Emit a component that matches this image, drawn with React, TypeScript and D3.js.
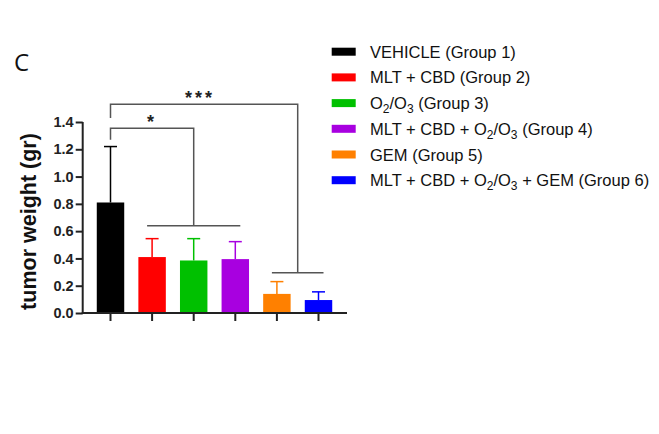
import { useEffect, useRef } from 'react';
import * as d3 from 'd3';

// group labels (legend), values and upper SD
const groups = ['G1', 'G2', 'G3', 'G4', 'G5', 'G6'];
const means = [0.81, 0.41, 0.385, 0.395, 0.14, 0.095];
const upperErr = [1.22, 0.545, 0.545, 0.523, 0.23, 0.155];
const colors = ['#000000', '#ff0000', '#00c000', '#a800e0', '#ff8000', '#0000ff'];
const yTicks = [0, 0.2, 0.4, 0.6, 0.8, 1.0, 1.2, 1.4];

// legend entries: [text, subscript, text, subscript, text...]
const legendParts: string[][] = [
  ['VEHICLE (Group 1)'],
  ['MLT + CBD (Group 2)'],
  ['O', '2', '/O', '3', ' (Group 3)'],
  ['MLT + CBD + O', '2', '/O', '3', ' (Group 4)'],
  ['GEM (Group 5)'],
  ['MLT + CBD + O', '2', '/O', '3', ' + GEM (Group 6)'],
];

// significance brackets: from group, to groups, label, heights (data units)
const brackets = [
  { from: 0, to: [1, 2, 3], label: '*', top: 1.355, leftEnd: 1.27, lower: 0.64, dx: 0 },
  { from: 0, to: [4, 5], label: '***', top: 1.53, leftEnd: 1.43, lower: 0.295, dx: -4 },
];

export default function App() {
  const svgRef = useRef<SVGSVGElement>(null);

  useEffect(() => {
    if (!svgRef.current) return;
    const svg = d3.select(svgRef.current);
    svg.selectAll('*').remove();

    const x = d3.scaleBand<string>()
      .domain(groups)
      .range([89.7, 339.3])
      .paddingInner(0.34)
      .paddingOuter(0.17);
    const y = d3.scaleLinear().domain([0, 1.4]).range([313, 122]);
    const cx = (i: number) => (x(groups[i]) ?? 0) + x.bandwidth() / 2;
    const axisColor = '#222';
    const bracketColor = '#555';
    const font = '"Liberation Sans", Arial, sans-serif';

    // panel letter
    svg.append('text')
      .attr('x', 14)
      .attr('y', 71)
      .attr('font-family', '"Open Sans", sans-serif')
      .attr('font-size', 24)
      .attr('fill', '#111')
      .text('C');

    // bars
    svg.append('g')
      .selectAll('rect')
      .data(groups)
      .join('rect')
      .attr('x', d => x(d) ?? 0)
      .attr('y', (_, i) => y(means[i]))
      .attr('width', x.bandwidth())
      .attr('height', (_, i) => y(0) - y(means[i]))
      .attr('fill', (_, i) => colors[i]);

    // error bars (upper only)
    const err = svg.append('g');
    groups.forEach((_, i) => {
      const c = cx(i);
      err.append('line')
        .attr('x1', c).attr('x2', c)
        .attr('y1', y(means[i])).attr('y2', y(upperErr[i]))
        .attr('stroke', colors[i]).attr('stroke-width', 1.5);
      err.append('line')
        .attr('x1', c - 6.5).attr('x2', c + 6.5)
        .attr('y1', y(upperErr[i])).attr('y2', y(upperErr[i]))
        .attr('stroke', colors[i]).attr('stroke-width', 1.5);
    });

    // y axis
    const yAxis = svg.append('g')
      .attr('transform', 'translate(82.7,0)')
      .call(d3.axisLeft(y).tickValues(yTicks).tickFormat(d3.format('.1f')).tickSize(7).tickPadding(2));
    yAxis.select('.domain').attr('stroke', axisColor).attr('stroke-width', 2)
      .attr('d', `M0,${y(1.4)}V${y(0) + 1}`);
    yAxis.selectAll('.tick line').attr('stroke', axisColor).attr('stroke-width', 2);
    yAxis.selectAll('.tick text')
      .attr('fill', '#222')
      .attr('font-size', 14.5)
      .attr('font-weight', 'bold')
      .attr('font-family', font);

    // x axis
    const xAxis = svg.append('g')
      .attr('transform', `translate(0,${y(0)})`)
      .call(d3.axisBottom(x).tickSize(8).tickFormat(() => ''));
    xAxis.select('.domain').attr('stroke', axisColor).attr('stroke-width', 2)
      .attr('d', `M81.7,0H347`);
    xAxis.selectAll('.tick line').attr('stroke', axisColor).attr('stroke-width', 2);

    // y label
    svg.append('text')
      .attr('transform', `translate(35.5,${(y(0) + y(1.4)) / 2 + 4}) rotate(-90)`)
      .attr('text-anchor', 'middle')
      .attr('font-family', font)
      .attr('font-weight', 'bold')
      .attr('font-size', 21.5)
      .attr('fill', '#111')
      .text('tumor weight (gr)');

    // significance brackets
    const br = svg.append('g')
      .attr('fill', 'none')
      .attr('stroke', bracketColor)
      .attr('stroke-width', 1.5);
    brackets.forEach(b => {
      const x0 = cx(b.from);
      const lx0 = cx(b.to[0]) - 5;
      const lx1 = cx(b.to[b.to.length - 1]) + 5;
      const x1 = (lx0 + lx1) / 2;
      br.append('path')
        .attr('d', `M${x0},${y(b.leftEnd)}V${y(b.top)}H${x1}V${y(b.lower)}M${lx0},${y(b.lower)}H${lx1}`);
      svg.append('text')
        .attr('x', (x0 + x1) / 2 + b.dx)
        .attr('y', y(b.top) - 0.5)
        .attr('text-anchor', 'middle')
        .attr('font-family', font)
        .attr('font-weight', 'bold')
        .attr('font-size', 18)
        .attr('letter-spacing', 3)
        .attr('fill', '#222')
        .text(b.label);
    });

    // legend
    const legend = svg.append('g').attr('transform', 'translate(331.7,51.7)');
    legendParts.forEach((parts, i) => {
      const row = legend.append('g').attr('transform', `translate(0,${i * 25.7})`);
      row.append('rect')
        .attr('x', 0).attr('y', -4)
        .attr('width', 24).attr('height', 8)
        .attr('fill', colors[i]);
      const t = row.append('text')
        .attr('x', 38.3)
        .attr('y', 6)
        .attr('font-family', font)
        .attr('font-size', 16.5)
        .attr('fill', '#111');
      let sub = false;
      parts.forEach((p, j) => {
        const isSub = p.length === 1 && /\d/.test(p) && j > 0;
        const ts = t.append('tspan').text(p);
        if (isSub) {
          ts.attr('font-size', 12).attr('dy', 4);
          sub = true;
        } else if (sub) {
          ts.attr('dy', -4);
          sub = false;
        }
      });
    });
  }, []);

  return (
    <svg
      ref={svgRef}
      width={659}
      height={434}
      viewBox="0 0 659 434"
      style={{ position: 'absolute', left: 0, top: 0, background: '#fff' }}
    />
  );
}
